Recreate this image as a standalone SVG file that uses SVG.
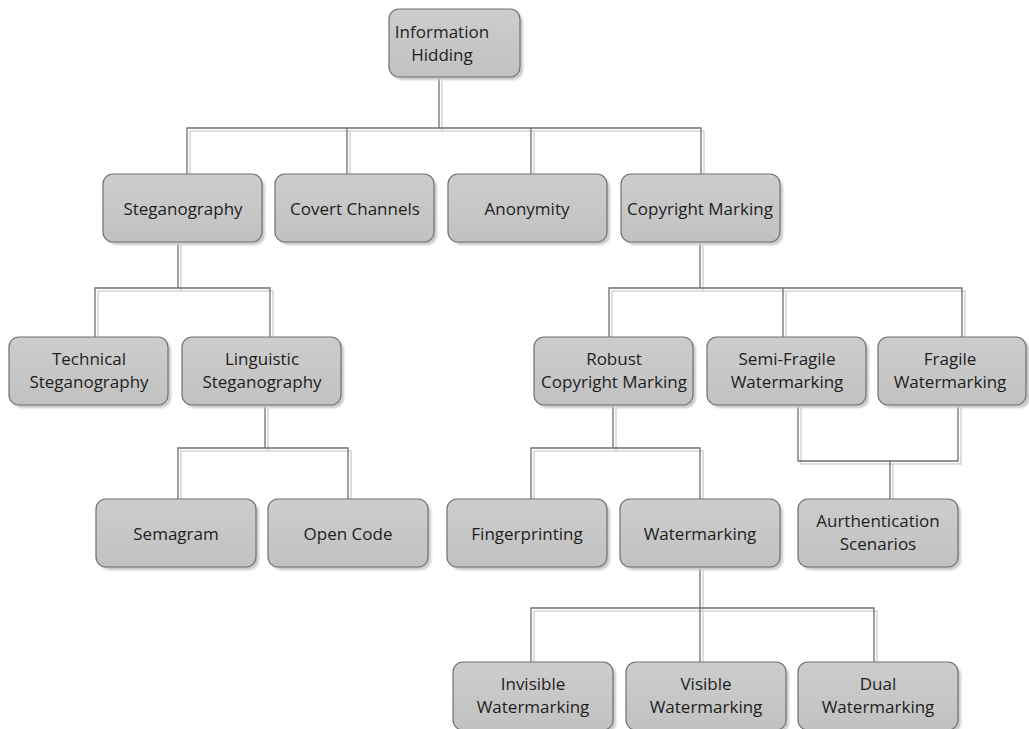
<svg xmlns="http://www.w3.org/2000/svg" width="1029" height="729" viewBox="0 0 1029 729">
<defs>
<linearGradient id="g" x1="0" y1="0" x2="0" y2="1">
<stop offset="0" stop-color="#cdcdcd"/>
<stop offset="1" stop-color="#c1c1c1"/>
</linearGradient>
<filter id="sh" x="-10%" y="-10%" width="130%" height="140%">
<feGaussianBlur stdDeviation="1.2"/>
</filter>
</defs>
<style>
.c{fill:none;stroke:#6f6f6f;stroke-width:1.3}
.cs{fill:none;stroke:#d4d4d4;stroke-width:1.5}
.b{fill:url(#g);stroke:#707070;stroke-width:1.2}
.s{fill:#c8c8c8;filter:url(#sh)}
text{font-family:"Open Sans","Noto Sans","DejaVu Sans",sans-serif;font-size:17px;fill:#1e1e1e;text-anchor:middle}
</style>
<rect width="1029" height="729" fill="#ffffff"/>
<g id="connectors">
<g transform="translate(3,3)">
<path class="cs" d="M439,78 V128 M187,174 V128 H701 V174 M347,128 V174 M531,128 V174"/>
<path class="cs" d="M178,242 V288 M95,337 V288 H270 V337"/>
<path class="cs" d="M700,242 V288 M609,337 V288 H962 V337 M783,288 V337"/>
<path class="cs" d="M265,405 V448 M178,499 V448 H348 V499"/>
<path class="cs" d="M613,405 V448 M531,499 V448 H700 V499"/>
<path class="cs" d="M798,405 V461 H958 V405 M890,461 V499"/>
<path class="cs" d="M700,567 V608 M531,662 V608 H874 V662 M700,608 V662"/>
</g>
<path class="c" d="M439,78 V128 M187,174 V128 H701 V174 M347,128 V174 M531,128 V174"/>
<path class="c" d="M178,242 V288 M95,337 V288 H270 V337"/>
<path class="c" d="M700,242 V288 M609,337 V288 H962 V337 M783,288 V337"/>
<path class="c" d="M265,405 V448 M178,499 V448 H348 V499"/>
<path class="c" d="M613,405 V448 M531,499 V448 H700 V499"/>
<path class="c" d="M798,405 V461 H958 V405 M890,461 V499"/>
<path class="c" d="M700,567 V608 M531,662 V608 H874 V662 M700,608 V662"/>
</g>
<g id="n-info"><rect class="s" x="392" y="12" width="131" height="68" rx="10"/><rect class="b" x="389" y="9" width="131" height="68" rx="10"/><text x="442" y="38">Information</text><text x="442" y="61">Hidding</text></g>
<g id="n-steg"><rect class="s" x="106" y="177" width="159" height="68" rx="10"/><rect class="b" x="103" y="174" width="159" height="68" rx="10"/><text x="183" y="215">Steganography</text></g>
<g id="n-covert"><rect class="s" x="278" y="177" width="159" height="68" rx="10"/><rect class="b" x="275" y="174" width="159" height="68" rx="10"/><text x="355" y="215">Covert Channels</text></g>
<g id="n-anon"><rect class="s" x="451" y="177" width="159" height="68" rx="10"/><rect class="b" x="448" y="174" width="159" height="68" rx="10"/><text x="527" y="215">Anonymity</text></g>
<g id="n-copy"><rect class="s" x="624" y="177" width="159" height="68" rx="10"/><rect class="b" x="621" y="174" width="159" height="68" rx="10"/><text x="700" y="215">Copyright Marking</text></g>
<g id="n-tech"><rect class="s" x="12" y="340" width="159" height="68" rx="10"/><rect class="b" x="9" y="337" width="159" height="68" rx="10"/><text x="89" y="365">Technical</text><text x="89" y="388">Steganography</text></g>
<g id="n-ling"><rect class="s" x="185" y="340" width="159" height="68" rx="10"/><rect class="b" x="182" y="337" width="159" height="68" rx="10"/><text x="262" y="365">Linguistic</text><text x="262" y="388">Steganography</text></g>
<g id="n-robust"><rect class="s" x="537" y="340" width="159" height="68" rx="10"/><rect class="b" x="534" y="337" width="159" height="68" rx="10"/><text x="614" y="365">Robust</text><text x="614" y="388">Copyright Marking</text></g>
<g id="n-semi"><rect class="s" x="710" y="340" width="159" height="68" rx="10"/><rect class="b" x="707" y="337" width="159" height="68" rx="10"/><text x="787" y="365">Semi-Fragile</text><text x="787" y="388">Watermarking</text></g>
<g id="n-fragile"><rect class="s" x="881" y="340" width="149" height="68" rx="10"/><rect class="b" x="878" y="337" width="148" height="68" rx="10"/><text x="950" y="365">Fragile</text><text x="950" y="388">Watermarking</text></g>
<g id="n-sema"><rect class="s" x="99" y="502" width="160" height="68" rx="10"/><rect class="b" x="96" y="499" width="160" height="68" rx="10"/><text x="176" y="540">Semagram</text></g>
<g id="n-open"><rect class="s" x="271" y="502" width="160" height="68" rx="10"/><rect class="b" x="268" y="499" width="160" height="68" rx="10"/><text x="348" y="540">Open Code</text></g>
<g id="n-finger"><rect class="s" x="450" y="502" width="160" height="68" rx="10"/><rect class="b" x="447" y="499" width="160" height="68" rx="10"/><text x="527" y="540">Fingerprinting</text></g>
<g id="n-water"><rect class="s" x="623" y="502" width="160" height="68" rx="10"/><rect class="b" x="620" y="499" width="160" height="68" rx="10"/><text x="700" y="540">Watermarking</text></g>
<g id="n-auth"><rect class="s" x="801" y="502" width="160" height="68" rx="10"/><rect class="b" x="798" y="499" width="160" height="68" rx="10"/><text x="878" y="527">Aurthentication</text><text x="878" y="550">Scenarios</text></g>
<g id="n-invis"><rect class="s" x="456" y="665" width="160" height="68" rx="10"/><rect class="b" x="453" y="662" width="160" height="68" rx="10"/><text x="533" y="690">Invisible</text><text x="533" y="713">Watermarking</text></g>
<g id="n-vis"><rect class="s" x="629" y="665" width="160" height="68" rx="10"/><rect class="b" x="626" y="662" width="160" height="68" rx="10"/><text x="706" y="690">Visible</text><text x="706" y="713">Watermarking</text></g>
<g id="n-dual"><rect class="s" x="801" y="665" width="160" height="68" rx="10"/><rect class="b" x="798" y="662" width="160" height="68" rx="10"/><text x="878" y="690">Dual</text><text x="878" y="713">Watermarking</text></g>
</svg>
